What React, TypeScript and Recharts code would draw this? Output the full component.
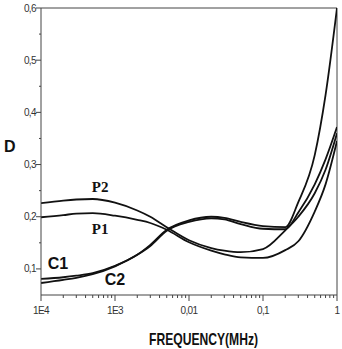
import React from 'react';
import {
  LineChart,
  Line,
  XAxis,
  YAxis,
  ReferenceLine,
  ReferenceDot,
} from 'recharts';

// frequency (MHz) sample points
const freq = [1e-4, 2e-4, 3e-4, 5e-4, 1e-3, 2e-3, 3e-3, 5e-3, 0.01, 0.02, 0.03, 0.05, 0.1, 0.2, 0.3, 0.5, 0.7, 1];

const p2 = [0.226, 0.231, 0.233, 0.234, 0.227, 0.212, 0.2, 0.18, 0.155, 0.14, 0.135, 0.132, 0.138, 0.174, 0.2, 0.245, 0.29, 0.36];
const p1 = [0.199, 0.203, 0.206, 0.207, 0.202, 0.194, 0.188, 0.175, 0.151, 0.135, 0.128, 0.122, 0.121, 0.136, 0.153, 0.21, 0.262, 0.345];
const c1 = [0.081, 0.084, 0.087, 0.092, 0.106, 0.127, 0.146, 0.175, 0.193, 0.2, 0.198, 0.19, 0.182, 0.18, 0.228, 0.318, 0.433, 0.6];
const c2 = [0.073, 0.079, 0.083, 0.09, 0.105, 0.127, 0.144, 0.173, 0.19, 0.197, 0.195, 0.186, 0.177, 0.176, 0.208, 0.262, 0.31, 0.372];

const xMajor = [1e-4, 1e-3, 0.01, 0.1, 1];
const xMajorLabels = ['1E4', '1E3', '0,01', '0,1', '1'];
const xMinor = [2e-4, 3e-4, 4e-4, 5e-4, 6e-4, 7e-4, 8e-4, 9e-4,
  2e-3, 3e-3, 4e-3, 5e-3, 6e-3, 7e-3, 8e-3, 9e-3,
  0.02, 0.03, 0.04, 0.05, 0.06, 0.07, 0.08, 0.09,
  0.2, 0.3, 0.4, 0.5, 0.6, 0.7, 0.8, 0.9];

const yMajor = [0.1, 0.2, 0.3, 0.4, 0.5, 0.6];
const yMajorLabels = ['0,1', '0,2', '0,3', '0,4', '0,5', '0,6'];
const yMinor = [0.15, 0.25, 0.35, 0.45, 0.55];

// curve annotations: [text, freq, D, serif]
const curveLabels: [string, number, number, boolean][] = [
  ['P2', 6.3e-4, 0.257, true],
  ['P1', 6.3e-4, 0.178, true],
  ['C1', 1.7e-4, 0.111, false],
  ['C2', 1e-3, 0.081, false],
];

const data = freq.map((f, i) => ({ f, p1: p1[i], p2: p2[i], c1: c1[i], c2: c2[i] }));

const axisColor = '#444';
const sans = 'Arial, "Liberation Sans", sans-serif';

const XTick = (props: any) => {
  const { x, y, payload } = props;
  const idx = xMajor.indexOf(payload.value);
  const major = idx >= 0;
  return (
    <g>
      <line x1={x} x2={x} y1={y} y2={y + (major ? 6 : 3)} stroke={axisColor} strokeWidth={1} />
      {major && (
        <text x={x} y={y + 19} textAnchor="middle" fontSize={10} fontFamily={sans} fill="#333" letterSpacing={-0.6}>
          {xMajorLabels[idx]}
        </text>
      )}
    </g>
  );
};

const YTick = (props: any) => {
  const { x, y, payload } = props;
  const idx = yMajor.findIndex((v) => Math.abs(v - payload.value) < 1e-9);
  const major = idx >= 0;
  return (
    <g>
      <line x1={x - (major ? 5 : 2)} x2={x} y1={y} y2={y} stroke={axisColor} strokeWidth={1} />
      {major && (
        <text x={x - 5} y={y + 3.5} textAnchor="end" fontSize={10} fontFamily={sans} fill="#333" letterSpacing={-0.6}>
          {yMajorLabels[idx]}
        </text>
      )}
    </g>
  );
};

export default function App() {
  return (
    <div style={{ position: 'absolute', left: 0, top: 0, background: '#fff' }}>
      <LineChart width={342} height={349} data={data} margin={{ top: 8, right: 5, bottom: 0, left: 0 }}>
        <XAxis
          dataKey="f"
          type="number"
          scale="log"
          domain={[1e-4, 1]}
          allowDataOverflow
          ticks={[...xMajor, ...xMinor].sort((a, b) => a - b)}
          interval={0}
          tickSize={0}
          tickMargin={0}
          tickLine={false}
          tick={<XTick />}
          height={54}
          stroke={axisColor}
          label={{
            position: 'insideBottom',
            content: (p: any) => {
              const vb = p.viewBox;
              return (
                <text
                  x={vb.x + vb.width / 2 - 40}
                  y={vb.y + 50}
                  fontSize={17}
                  fontWeight="bold"
                  fontFamily={sans}
                  textLength={109}
                  lengthAdjust="spacingAndGlyphs"
                  fill="#111"
                >
                  FREQUENCY(MHz)
                </text>
              );
            },
          }}
        />
        <YAxis
          type="number"
          domain={[0.05, 0.6]}
          allowDataOverflow
          ticks={[...yMajor, ...yMinor].sort((a, b) => a - b)}
          interval={0}
          tickSize={0}
          tickMargin={0}
          tickLine={false}
          tick={<YTick />}
          width={41}
          stroke={axisColor}
          label={{
            position: 'insideLeft',
            content: (p: any) => {
              const vb = p.viewBox;
              return (
                <text x={vb.x + 4} y={vb.y + vb.height / 2} fontSize={16} fontWeight="bold" fontFamily={sans} fill="#111">
                  D
                </text>
              );
            },
          }}
        />
        <ReferenceLine y={0.6} stroke={axisColor} strokeWidth={1} />
        <ReferenceLine x={1} stroke={axisColor} strokeWidth={1} />
        <Line type="monotone" dataKey="p2" stroke="#111" strokeWidth={1.8} dot={false} isAnimationActive={false} />
        <Line type="monotone" dataKey="p1" stroke="#111" strokeWidth={1.8} dot={false} isAnimationActive={false} />
        <Line type="monotone" dataKey="c1" stroke="#111" strokeWidth={1.8} dot={false} isAnimationActive={false} />
        <Line type="monotone" dataKey="c2" stroke="#111" strokeWidth={1.8} dot={false} isAnimationActive={false} />
        {curveLabels.map(([t, fx, dy, serif]) => (
          <ReferenceDot
            key={t}
            x={fx}
            y={dy}
            r={0}
            fill="none"
            stroke="none"
            label={{
              value: t,
              position: 'center',
              fontSize: serif ? 15 : 16,
              fontWeight: 'bold',
              fontFamily: serif ? '"Liberation Serif", "Times New Roman", serif' : sans,
              fill: '#111',
            }}
          />
        ))}
      </LineChart>
    </div>
  );
}
